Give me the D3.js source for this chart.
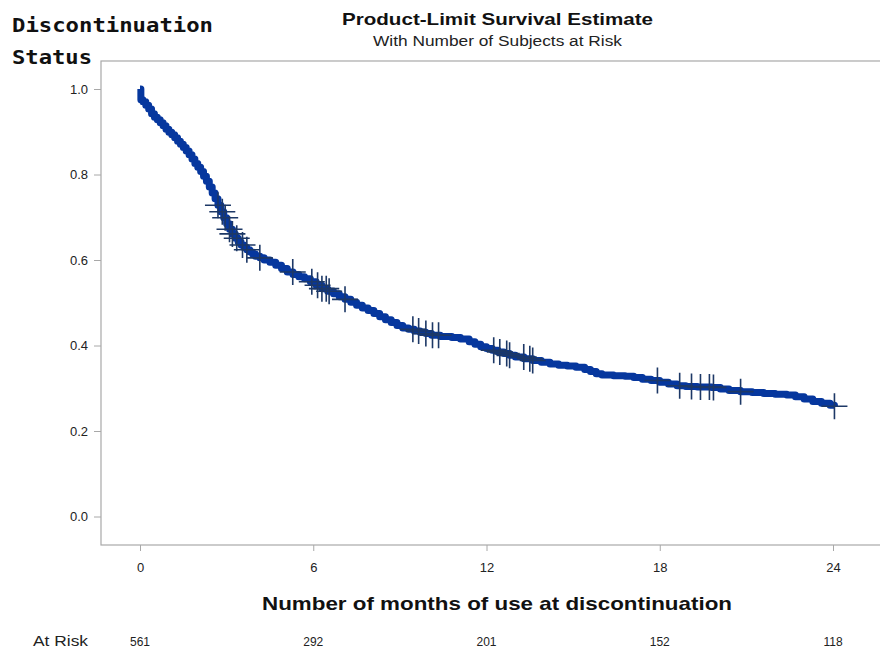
<!DOCTYPE html>
<html>
<head>
<meta charset="utf-8">
<script src="https://cdn.jsdelivr.net/npm/d3@7/dist/d3.min.js"></script>
<style>
  body { margin: 0; background: #fff; }
  svg { display: block; }
</style>
</head>
<body>
<div id="chart"></div>
<script>
// Axis ticks and risk table
const monthTicks = [0, 6, 12, 18, 24];
const survivalTicks = [0, 0.2, 0.4, 0.6, 0.8, 1.0];
const atRiskCounts = [561, 292, 201, 152, 118];

// Kaplan-Meier step estimate
const kmTimes = [0, 0.03, 0.1, 0.2, 0.3, 0.4, 0.5, 0.6, 0.7, 0.8, 0.9, 1.0, 1.1, 1.2, 1.3, 1.4, 1.5, 1.6, 1.7, 1.8, 1.9,
  2.0, 2.1, 2.2, 2.3, 2.4, 2.5, 2.6, 2.7, 2.8, 2.9, 3.0, 3.1, 3.2, 3.3, 3.4, 3.5, 3.6, 3.7, 3.8, 3.9,
  4.0, 4.15, 4.3, 4.5, 4.7, 4.9, 5.1, 5.3, 5.5, 5.7, 5.9, 6.1, 6.3, 6.5, 6.7, 6.9, 7.1, 7.3, 7.5, 7.7, 7.9,
  8.1, 8.3, 8.5, 8.7, 8.9, 9.1, 9.3, 9.5, 9.7, 9.9, 10.1, 10.4, 10.8, 11.1, 11.4, 11.6, 11.8, 12.0, 12.2,
  12.4, 12.6, 12.8, 13.0, 13.3, 13.6, 13.9, 14.2, 14.5, 14.8, 15.1, 15.4, 15.6, 15.8, 16.0, 16.4, 16.8,
  17.1, 17.4, 17.7, 18.0, 18.3, 18.6, 18.9, 19.3, 19.8, 20.1, 20.4, 20.8, 21.2, 21.6, 22.0, 22.4, 22.7,
  23.0, 23.3, 23.6, 23.9, 24.05];
const kmSurvival = [1.0, 0.975, 0.970, 0.962, 0.953, 0.942, 0.934, 0.928, 0.921, 0.914, 0.906, 0.899, 0.893, 0.886,
  0.878, 0.871, 0.863, 0.855, 0.846, 0.836, 0.826, 0.817, 0.807, 0.796, 0.784, 0.771, 0.757, 0.743, 0.728, 0.713,
  0.699, 0.685, 0.672, 0.661, 0.651, 0.642, 0.635, 0.629, 0.624, 0.619, 0.614, 0.609, 0.605, 0.600, 0.595, 0.588,
  0.580, 0.572, 0.566, 0.561, 0.556, 0.549, 0.541, 0.533, 0.527, 0.521, 0.514, 0.508, 0.501, 0.494, 0.488, 0.482,
  0.475, 0.467, 0.460, 0.454, 0.447, 0.441, 0.438, 0.434, 0.431, 0.428, 0.424, 0.421, 0.419, 0.415, 0.409, 0.403,
  0.397, 0.393, 0.389, 0.385, 0.381, 0.377, 0.373, 0.369, 0.365, 0.361, 0.357, 0.354, 0.352, 0.349, 0.344, 0.339,
  0.334, 0.331, 0.329, 0.328, 0.325, 0.321, 0.318, 0.314, 0.310, 0.306, 0.304, 0.303, 0.302, 0.298, 0.295, 0.292,
  0.290, 0.288, 0.286, 0.284, 0.280, 0.275, 0.269, 0.265, 0.260, 0.258];

// Censored observations (months)
const censorTimes = [2.7, 2.85, 2.95, 3.1, 3.2, 3.35, 3.55, 3.7, 4.15, 5.29, 5.95, 6.15, 6.3, 6.45, 6.55,
  7.1, 9.45, 9.65, 9.9, 10.13, 10.34, 12.25, 12.46, 12.7, 12.8, 13.29, 13.5, 13.6, 17.92, 18.69,
  19.1, 19.41, 19.72, 19.86, 20.8, 24.05];

const width = 880, height = 652;
const frame = { left: 101, top: 61, right: 894, bottom: 545 };

const svg = d3.select('#chart')
  .append('svg')
  .attr('width', width)
  .attr('height', height)
  .style('font-family', '"Liberation Sans", Arial, sans-serif');

const x = d3.scaleLinear().domain([0, 24]).range([140, 833]);
const y = d3.scaleLinear().domain([0, 1]).range([516.5, 89]);

// Plot frame (right edge falls outside the picture)
svg.append('rect')
  .attr('x', frame.left)
  .attr('y', frame.top)
  .attr('width', frame.right - frame.left)
  .attr('height', frame.bottom - frame.top)
  .attr('fill', 'none')
  .attr('stroke', '#a8a8a8')
  .attr('stroke-width', 1.2);

// Y axis
const yAxis = svg.append('g')
  .attr('transform', `translate(${frame.left},0)`)
  .call(d3.axisLeft(y).tickValues(survivalTicks).tickFormat(d3.format('.1f')).tickSize(7).tickPadding(6));
yAxis.select('.domain').remove();
yAxis.selectAll('.tick line').attr('stroke', '#a8a8a8');
yAxis.selectAll('.tick text')
  .attr('fill', '#222')
  .style('font-size', '13px');

// X axis
const xAxis = svg.append('g')
  .attr('transform', `translate(0,${frame.bottom})`)
  .call(d3.axisBottom(x).tickValues(monthTicks).tickSize(6).tickPadding(12));
xAxis.select('.domain').remove();
xAxis.selectAll('.tick line').attr('stroke', '#a8a8a8');
xAxis.selectAll('.tick text')
  .attr('fill', '#222')
  .style('font-size', '13px');

// Survival curve
const kmData = kmTimes.map((t, i) => ({ t, s: kmSurvival[i] }));
const line = d3.line()
  .x(d => x(d.t))
  .y(d => y(d.s))
  .curve(d3.curveStepAfter);

svg.append('path')
  .datum(kmData)
  .attr('d', line)
  .attr('fill', 'none')
  .attr('stroke', '#06379e')
  .attr('stroke-width', 7)
  .attr('stroke-linejoin', 'round');

// Censoring marks sit on the step curve
const bisect = d3.bisector(d => d.t).right;
const survivalAt = t => kmData[Math.max(0, bisect(kmData, t) - 1)].s;
const arm = 13;

svg.append('g')
  .selectAll('path')
  .data(censorTimes)
  .join('path')
  .attr('d', t => {
    const cx = x(t), cy = y(survivalAt(t));
    return `M${cx - arm},${cy}H${cx + arm}M${cx},${cy - arm}V${cy + arm}`;
  })
  .attr('fill', 'none')
  .attr('stroke', '#1d3866')
  .attr('stroke-width', 1.6);

// Titles
svg.append('text')
  .attr('x', 342)
  .attr('y', 25)
  .attr('textLength', 311)
  .attr('lengthAdjust', 'spacingAndGlyphs')
  .style('font-size', '17px')
  .style('font-weight', 'bold')
  .attr('fill', '#111')
  .text('Product-Limit Survival Estimate');

svg.append('text')
  .attr('x', 373)
  .attr('y', 46)
  .attr('textLength', 249)
  .attr('lengthAdjust', 'spacingAndGlyphs')
  .style('font-size', '14px')
  .attr('fill', '#222')
  .text('With Number of Subjects at Risk');

// Y axis label, two lines in bold monospace
const yLabel = svg.append('g')
  .style('font-family', '"DejaVu Sans Mono", "Liberation Mono", monospace')
  .style('font-weight', 'bold')
  .style('font-size', '19px')
  .attr('fill', '#111');

yLabel.append('text')
  .attr('x', 12)
  .attr('y', 32)
  .attr('textLength', 201)
  .attr('lengthAdjust', 'spacingAndGlyphs')
  .text('Discontinuation');

yLabel.append('text')
  .attr('x', 12)
  .attr('y', 64)
  .attr('textLength', 80)
  .attr('lengthAdjust', 'spacingAndGlyphs')
  .text('Status');

// X axis label
svg.append('text')
  .attr('x', 262)
  .attr('y', 610)
  .attr('textLength', 470)
  .attr('lengthAdjust', 'spacingAndGlyphs')
  .style('font-size', '19px')
  .style('font-weight', 'bold')
  .attr('fill', '#111')
  .text('Number of months of use at discontinuation');

// Number at risk row
svg.append('text')
  .attr('x', 33)
  .attr('y', 646)
  .attr('textLength', 55)
  .attr('lengthAdjust', 'spacingAndGlyphs')
  .style('font-size', '14px')
  .attr('fill', '#222')
  .text('At Risk');

svg.append('g')
  .selectAll('text')
  .data(atRiskCounts)
  .join('text')
  .attr('x', (d, i) => x(monthTicks[i]))
  .attr('y', 646)
  .attr('text-anchor', 'middle')
  .style('font-size', '12px')
  .attr('fill', '#222')
  .text(d => d);
</script>
</body>
</html>
